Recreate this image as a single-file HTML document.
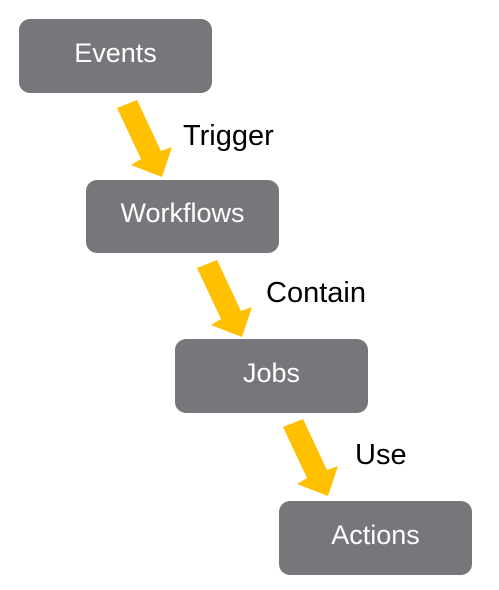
<!DOCTYPE html>
<html><head><meta charset="utf-8"><style>
body{margin:0;width:499px;height:590px;background:#fff;overflow:hidden;position:relative;font-family:"Segoe UI","Liberation Sans","DejaVu Sans",sans-serif}
.b{position:absolute;background:#77767b;border-radius:11px;color:#fff;font-size:27px;display:flex;align-items:center;justify-content:center;width:193px;height:74px;box-sizing:border-box;padding-bottom:6px}
.l{position:absolute;font-size:29px;color:#000;line-height:32px}
svg{position:absolute;left:0;top:0}
</style></head><body>
<svg width="499" height="590">
<g fill="#ffc000">
<polygon points="117,108 137,100 161,151 172,147 162,177 131,165 141,159"/>
<polygon transform="translate(80,160)" points="117,108 137,100 161,151 172,147 162,177 131,165 141,159"/>
<polygon transform="translate(166,319)" points="117,108 137,100 161,151 172,147 162,177 131,165 141,159"/>
</g></svg>
<div class="b" style="left:19px;top:19px">Events</div>
<div class="b" style="left:86px;top:180px;height:73px">Workflows</div>
<div class="b" style="left:175px;top:339px">Jobs</div>
<div class="b" style="left:279px;top:501px">Actions</div>
<div class="l" style="left:183px;top:120px">Trigger</div>
<div class="l" style="left:266px;top:277px">Contain</div>
<div class="l" style="left:355px;top:439px">Use</div>
</body></html>
